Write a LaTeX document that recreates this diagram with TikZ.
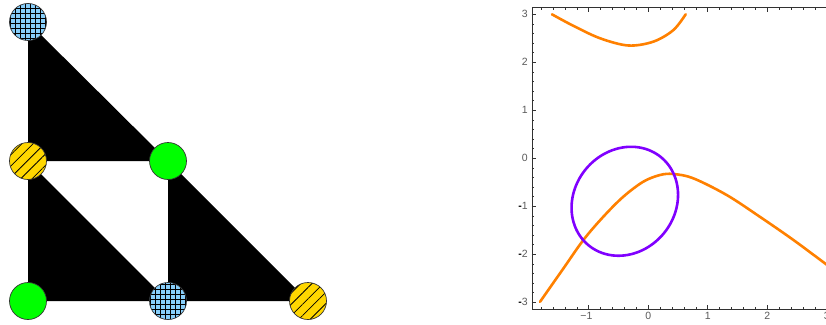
\documentclass[tikz,border=0pt]{standalone}
\usepackage{fontspec}
\setmainfont{Liberation Sans}
\usetikzlibrary{patterns.meta,backgrounds}
\definecolor{cblue}{RGB}{135,206,250}
\definecolor{cgold}{RGB}{255,215,0}
\definecolor{cgreen}{RGB}{0,255,0}
\definecolor{corange}{RGB}{255,128,0}
\definecolor{cpurple}{RGB}{128,0,255}
\definecolor{tickgray}{RGB}{90,90,90}
\definecolor{framegray}{RGB}{50,50,50}
\begin{document}
\begin{tikzpicture}[x=1pt,y=-1pt,
  vert/.style={circle, inner sep=0pt, minimum size=37pt, draw=black!80, line width=0.7pt},
  gridv/.style={vert, preaction={fill=cblue}, pattern={Hatch[distance=5.4pt,line width=0.9pt]}, pattern color=black},
  hatchv/.style={vert, preaction={fill=cgold}, pattern={Lines[angle=45,distance=8pt,line width=0.8pt]}, pattern color=black},
  greenv/.style={vert, fill=cgreen},
  framestyle/.style={draw=framegray, line width=0.9pt},
  tickstyle/.style={draw=framegray, line width=0.7pt},
  ticklab/.style={font=\fontsize{10.5pt}{12pt}\selectfont, text=tickgray, inner sep=0pt},
  curveo/.style={draw=corange, line width=2.6pt, line cap=round, line join=round},
  curvep/.style={draw=cpurple, line width=2.6pt, line cap=round, line join=round}]
\useasboundingbox (0,0) rectangle (826,324);
% left diagram
\node[gridv] (t) at (28,22) {};
\node[hatchv] (ml) at (28,161) {};
\node[greenv] (mm) at (168,161) {};
\node[greenv] (bl) at (28,301) {};
\node[gridv] (bm) at (168,301) {};
\node[hatchv] (br) at (308,301) {};
\begin{scope}[on background layer]
  \fill (t.center) -- (ml.center) -- (mm.center) -- cycle;
  \fill (ml.center) -- (bl.center) -- (bm.center) -- cycle;
  \fill (mm.center) -- (bm.center) -- (br.center) -- cycle;
\end{scope}
% plot
\begin{scope}[shift={(648.3,158.3)}, x=59.5pt, y=48pt]
  \draw[framestyle] (3.4,3.15) -- (-1.955,3.15) -- (-1.955,-3.146) -- (3.4,-3.146);
  \foreach \i in {-15,...,15} {
    \draw[tickstyle] (-1.955,\i/5) -- ++(2.5pt,0);
  }
  \foreach \y in {-3,...,3} {
    \draw[tickstyle] (-1.955,\y) -- ++(4.5pt,0);
  }
  \foreach \i in {-9,...,16} {
    \draw[tickstyle] (\i/5,-3.146) -- ++(0,2.5pt);
    \draw[tickstyle] (\i/5,3.15) -- ++(0,-2.5pt);
  }
  \foreach \x in {-1,...,3} {
    \draw[tickstyle] (\x,-3.146) -- ++(0,4.5pt);
    \draw[tickstyle] (\x,3.15) -- ++(0,-4.5pt);
  }
  \foreach \y in {0,1,2,3} {
    \node[ticklab, anchor=east] at ([xshift=-4pt]-1.955,\y) {\y};
  }
  \foreach \y in {1,2,3} {
    \node[ticklab, anchor=east] at ([xshift=-4pt]-1.955,-\y) {{\color{black}\bfseries -}\y};
  }
  \node[ticklab, anchor=north] at ([yshift=-2.5pt]-1.04,-3.146) {−1};
  \foreach \x in {0,1,2,3} {
    \node[ticklab, anchor=north] at ([yshift=-2.5pt]\x,-3.146) {\x};
  }
  % orange curves
  \draw[curveo] plot[smooth, tension=0.55] coordinates {(-1.82,-2.99) (-1.43,-2.30) (-1.09,-1.70) (-0.756,-1.217) (-0.42,-0.80) (-0.084,-0.487) (0.197,-0.348) (0.42,-0.327) (0.756,-0.417) (1.318,-0.765) (1.877,-1.22) (2.437,-1.70) (2.97,-2.19) (3.3,-2.49)};
  \draw[curveo] plot[smooth, tension=0.55] coordinates {(-1.62,3.0) (-1.26,2.76) (-0.81,2.50) (-0.336,2.35) (0.084,2.43) (0.42,2.67) (0.628,3.0)};
  % purple closed curve
  \draw[curvep] plot[domain=0:360, samples=120, smooth] ({-0.395+0.895*cos(\x)}, {-0.895+0.135*cos(\x)+1.127*sin(\x)}) -- cycle;
\end{scope}
\end{tikzpicture}
\end{document}
